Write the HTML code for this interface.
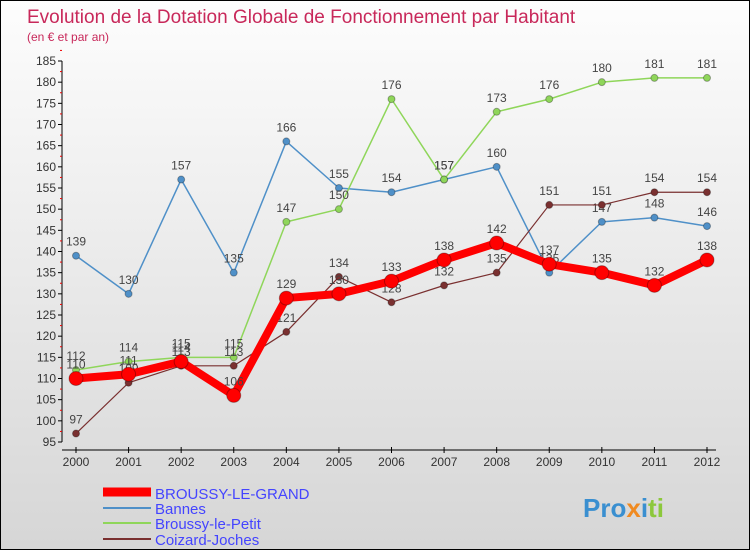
<!DOCTYPE html>
<html><head><meta charset="utf-8"><style>
html,body{margin:0;padding:0}
body{width:750px;height:550px;overflow:hidden;font-family:"Liberation Sans",sans-serif}
#wrap{position:relative;width:748px;height:548px;border:1px solid #000;background:linear-gradient(#fdfdfd,#d6d6d6)}
svg text{font-family:"Liberation Sans",sans-serif}
</style></head><body>
<div id="wrap">
<svg id="chart" width="748" height="548">
<text x="26" y="22" font-size="19" fill="#c8285a">Evolution de la Dotation Globale de Fonctionnement par Habitant</text>
<text x="26" y="40" font-size="12" fill="#c8285a">(en € et par an)</text>
<g id="axes"></g><g id="series"></g>
<g>
<line x1="102" y1="491" x2="150" y2="491" stroke="#f00" stroke-width="9"/>
<text x="154" y="498" font-size="15" fill="#4444ff">BROUSSY-LE-GRAND</text>
<line x1="102" y1="507" x2="150" y2="507" stroke="#4f90c8" stroke-width="2"/>
<text x="154" y="513" font-size="15" fill="#4444ff">Bannes</text>
<line x1="102" y1="522" x2="150" y2="522" stroke="#8fd65a" stroke-width="2"/>
<text x="154" y="528" font-size="15" fill="#4444ff">Broussy-le-Petit</text>
<line x1="102" y1="538" x2="150" y2="538" stroke="#7a3030" stroke-width="2"/>
<text x="154" y="544" font-size="15" fill="#4444ff">Coizard-Joches</text>
</g>
<text x="582" y="516" font-size="26" font-weight="bold" fill="#3a8fd0">Pro<tspan fill="#f08a20">x</tspan><tspan fill="#3a8fd0">i</tspan><tspan fill="#8cc83c">ti</tspan></text>
</svg></div>
<script>
const years=[2000,2001,2002,2003,2004,2005,2006,2007,2008,2009,2010,2011,2012];
const yTicks=[95,100,105,110,115,120,125,130,135,140,145,150,155,160,165,170,175,180,185];
const grand=[110,111,114,106,129,130,133,138,142,137,135,132,138];
const bannes=[139,130,157,135,166,155,154,157,160,135,147,148,146];
const petit=[112,114,115,115,147,150,176,157,173,176,180,181,181];
const coizard=[97,109,113,113,121,134,128,132,135,151,151,154,154];
const NS="http://www.w3.org/2000/svg";
const x=i=>75+i*(706-75)/12;
const y=v=>441-(v-95)*(381/90);
function mk(t,a,p){const e=document.createElementNS(NS,t);for(const k in a)e.setAttribute(k,a[k]);p.appendChild(e);return e;}
const ax=document.getElementById('axes');
const yl=mk('line',{x1:61,y1:y(185),x2:61,y2:y(95),stroke:'#000'},ax);


const xl=mk('line',{x1:61,y1:449,x2:715,y2:449,stroke:'#000'},ax);


yTicks.forEach(v=>{
 mk('line',{x1:57,y1:y(v),x2:61,y2:y(v),stroke:'#000'},ax);
 mk('line',{x1:59,y1:y(v+2.5),x2:61,y2:y(v+2.5),stroke:'#e00'},ax);
 const t=mk('text',{x:55,y:y(v)+4,'font-size':12,fill:'#333','text-anchor':'end'},ax);
 t.textContent=v;
 
 
});
years.forEach((yr,i)=>{
 mk('line',{x1:x(i),y1:446,x2:x(i),y2:452,stroke:'#000'},ax);
 const t=mk('text',{x:x(i),y:465,'font-size':12,fill:'#333','text-anchor':'middle'},ax);
 t.textContent=yr;
 
 
});
const sg=document.getElementById('series');
function series(d,col,w,r,name){
 const g=mk('g',{},sg);
 
 
 const pl=mk('polyline',{points:d.map((v,i)=>x(i)+','+y(v)).join(' '),fill:'none',stroke:col,'stroke-width':w,'stroke-linejoin':'round'},g);
 
 
 d.forEach((v,i)=>{
  const c=mk('circle',{cx:x(i),cy:y(v),r:r,fill:col,stroke:'rgba(0,0,0,0.3)'},g);
  
  
  const t=mk('text',{x:x(i),y:y(v)-10,'font-size':12,fill:'#444','text-anchor':'middle'},g);
  t.textContent=v;
  
  
 });
}
series(bannes,'#4f90c8',1.5,3.5,'bannes');
series(petit,'#8fd65a',1.5,3.5,'broussy-le-petit');
series(coizard,'#7a3030',1.2,3.5,'coizard-joches');
series(grand,'#f00',8,7,'broussy-le-grand');
</script>
</body></html>
